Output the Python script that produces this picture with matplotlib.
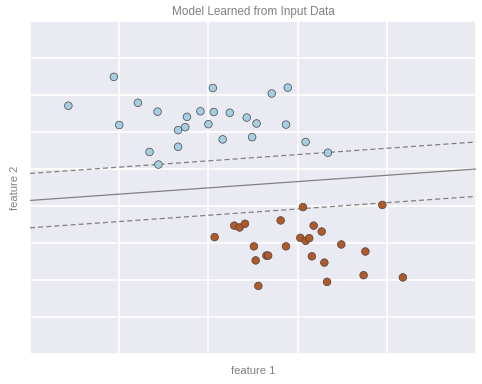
# -*- coding: utf-8 -*-
"""
Linear classifier picture: two separable clusters of points with the
decision boundary and its margins.
"""

import numpy as np
import matplotlib
matplotlib.use("Agg")
import matplotlib.pyplot as plt
from matplotlib.ticker import MultipleLocator, NullFormatter

# Points of class 0 (light blue)
x_class0 = [-0.06, -0.57, 0.21, 0.43, 0.00, 1.05, 0.76, 0.91, 1.06, 1.24,
            0.66, 0.74, 1.00, 1.16, 0.34, 0.66, 0.44, 1.71, 1.89, 1.43,
            1.54, 1.87, 1.49, 2.09, 2.34]
y_class0 = [5.49, 4.71, 4.79, 4.55, 4.19, 5.19, 4.41, 4.56, 4.54, 4.52,
            4.05, 4.13, 4.21, 3.80, 3.46, 3.60, 3.12, 5.04, 5.20, 4.39,
            4.23, 4.20, 3.86, 3.73, 3.44]

# Points of class 1 (brown)
x_class1 = [2.06, 2.95, 1.29, 1.35, 1.41, 1.81, 1.07, 2.18, 2.27, 2.03,
            2.09, 2.13, 1.51, 1.87, 2.49, 2.76, 1.53, 1.65, 1.67, 2.16,
            2.30, 2.33, 2.74, 3.18, 1.56]
y_class1 = [1.97, 2.03, 1.47, 1.42, 1.52, 1.61, 1.16, 1.47, 1.31, 1.14,
            1.06, 1.13, 0.91, 0.91, 0.96, 0.77, 0.53, 0.66, 0.66, 0.64,
            0.47, -0.05, 0.13, 0.07, -0.16]

# Decision function levels -1, 0, 1 evaluated at both ends of the x range
line_x = [-1, 4]
margin_low = [1.41, 2.26]
boundary = [2.15, 3.00]
margin_high = [2.88, 3.73]

plt.style.use("seaborn-v0_8-darkgrid")
plt.rcParams["font.family"] = ["Liberation Sans", "DejaVu Sans"]

fig = plt.figure(figsize=(4.82, 3.84), dpi=100)
ax = fig.add_axes([30 / 482, 30 / 384, 446 / 482, 333 / 384])

labels = np.array([0] * len(x_class0) + [1] * len(x_class1))
xs = np.array(x_class0 + x_class1)
ys = np.array(y_class0 + y_class1)
ax.scatter(xs, ys, c=labels, cmap="Paired", vmin=0, vmax=1, s=30,
           edgecolors="#444444", linewidths=0.5, zorder=3)

dashed = (0, (4, 2.5))
ax.plot(line_x, margin_low, color="gray", lw=0.9, ls=dashed)
ax.plot(line_x, boundary, color="gray", lw=0.9, ls="-")
ax.plot(line_x, margin_high, color="gray", lw=0.9, ls=dashed)

ax.axis([-1, 4, -2, 7])
ax.xaxis.set_major_locator(MultipleLocator(1))
ax.yaxis.set_major_locator(MultipleLocator(1))
ax.xaxis.set_major_formatter(NullFormatter())
ax.yaxis.set_major_formatter(NullFormatter())
ax.tick_params(length=0)
ax.grid(True, color="white", lw=1.2)
for s in ax.spines.values():
    s.set_visible(False)

ax.set_xlabel("feature 1", color="gray", fontsize=8, labelpad=5)
ax.set_ylabel("feature 2", color="gray", fontsize=8, labelpad=4)
ax.set_title("Model Learned from Input Data", color="gray", fontsize=8.5, pad=4)

plt.savefig("out.png", dpi=100)
